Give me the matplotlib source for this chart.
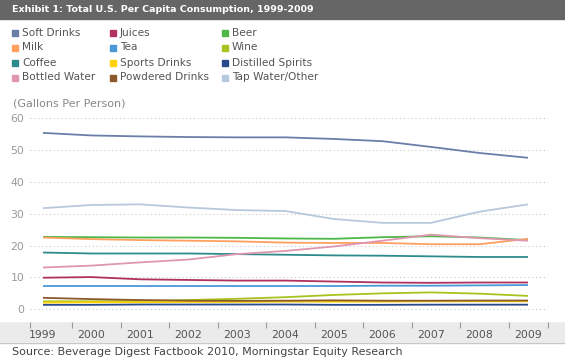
import matplotlib
matplotlib.use("Agg")
from matplotlib import pyplot as plt
from matplotlib.patches import Rectangle

years = list(range(1999, 2010))

soft_drinks = [55.3, 54.5, 54.2, 54.0, 53.9, 53.9, 53.4, 52.7, 50.9, 49.0, 47.5]
juices = [9.9, 10.1, 9.4, 9.2, 9.0, 9.0, 8.7, 8.4, 8.3, 8.4, 8.4]
beer = [22.7, 22.6, 22.5, 22.5, 22.4, 22.2, 22.1, 22.6, 22.9, 22.5, 21.7]
milk = [22.5, 22.0, 21.7, 21.5, 21.3, 20.9, 20.8, 20.8, 20.4, 20.4, 22.1]
tea = [7.3, 7.3, 7.3, 7.3, 7.3, 7.3, 7.3, 7.4, 7.4, 7.5, 7.6]
wine = [2.5, 2.5, 2.6, 2.9, 3.3, 3.8, 4.5, 5.0, 5.3, 4.9, 4.2]
coffee = [17.8, 17.5, 17.5, 17.5, 17.3, 17.1, 16.9, 16.8, 16.6, 16.4, 16.4]
sports_drinks = [2.1, 2.2, 2.2, 2.3, 2.3, 2.4, 2.4, 2.4, 2.5, 2.5, 2.5]
spirits = [1.4, 1.4, 1.5, 1.5, 1.5, 1.5, 1.4, 1.4, 1.45, 1.45, 1.45]
bottled_water = [13.1, 13.7, 14.7, 15.6, 17.3, 18.3, 19.7, 21.5, 23.4, 22.3, 21.5]
powdered = [3.6, 3.2, 2.9, 2.7, 2.65, 2.7, 2.8, 2.7, 2.7, 2.75, 2.75]
tap_water = [31.7, 32.7, 32.9, 31.9, 31.1, 30.8, 28.3, 27.1, 27.1, 30.6, 32.9]

# legend order is row by row, 3 per row
series = [
    ("Soft Drinks", soft_drinks, "#6a7fa8"),
    ("Juices", juices, "#b03060"),
    ("Beer", beer, "#4db848"),
    ("Milk", milk, "#ffa060"),
    ("Tea", tea, "#4a98d8"),
    ("Wine", wine, "#a8c21e"),
    ("Coffee", coffee, "#2e8b8b"),
    ("Sports Drinks", sports_drinks, "#ffd200"),
    ("Distilled Spirits", spirits, "#2b4a8c"),
    ("Bottled Water", bottled_water, "#e096b0"),
    ("Powdered Drinks", powdered, "#8a5a2a"),
    ("Tap Water/Other", tap_water, "#b8c8dc"),
]

W, H = 565, 362
fig = plt.figure(figsize=(W / 100, H / 100), dpi=100)

def fx(px):
    return px / W

def fy(py):
    return 1 - py / H

# title bar
fig.patches.append(Rectangle((0, fy(19)), 1, 19 / H, transform=fig.transFigure,
                             color="#666666", zorder=-1))
fig.text(fx(12), fy(10), "Exhibit 1: Total U.S. Per Capita Consumption, 1999-2009",
         color="white", fontsize=6.8, fontweight="bold", va="center", ha="left")

# legend
col_x = [12, 110, 222]
row_y = [32.5, 47.5, 62.5, 77.5]
for i, (name, vals, c) in enumerate(series):
    x = col_x[i % 3]
    y = row_y[i // 3]
    fig.patches.append(Rectangle((fx(x), fy(y + 3)), 6 / W, 6 / H,
                                 transform=fig.transFigure, color=c))
    fig.text(fx(x + 10), fy(y), name, color="#555555", fontsize=7.6, va="center")

# x axis band
fig.patches.append(Rectangle((0, fy(343)), 1, 20 / H, transform=fig.transFigure,
                             facecolor="#ebebeb", edgecolor="none", zorder=-1))
fig.lines.append(plt.Line2D([0, 1], [fy(323), fy(323)], transform=fig.transFigure,
                            color="#b0b0b0", lw=1, zorder=-1))
fig.lines.append(plt.Line2D([0, 1], [fy(343), fy(343)], transform=fig.transFigure,
                            color="#c8c8c8", lw=1, zorder=-1))

# axes: 1999 at px 43, 2009 at px 528; 0 at py 309.3, 10 units = 31.9 px
ppy = 48.5
ppv = 3.19
left, right = 30, 548
x0 = 1999 - (43 - left) / ppy
x1 = 2009 + (right - 528) / ppy
ytop, ybot = 61, -4
top_px = 309.3 - ytop * ppv
bot_px = 309.3 - ybot * ppv
ax = fig.add_axes([fx(left), fy(bot_px), (right - left) / W, (bot_px - top_px) / H])
ax.set_xlim(x0, x1)
ax.set_ylim(ybot, ytop)
ax.patch.set_alpha(0)

for name, vals, c in series:
    ax.plot(years, vals, color=c, lw=1.3, solid_capstyle="butt")

for s in ax.spines.values():
    s.set_visible(False)

ax.set_yticks([0, 10, 20, 30, 40, 50, 60])
ax.yaxis.grid(True, linestyle=(0, (1, 2.5)), color="#c8c8c8", lw=0.8)
ax.tick_params(axis="y", length=0, labelsize=7.8, labelcolor="#999999", pad=4)

ax.set_xticks(years)
ax.set_xticks([x0] + [y + 0.6 for y in years[:-1]] + [x1], minor=True)
ax.tick_params(axis="x", which="major", length=0, labelsize=7.8, labelcolor="#555555", pad=6)
ax.tick_params(axis="x", which="minor", length=4, color="#999999", width=0.8, direction="out")

fig.text(fx(13), fy(103), "(Gallons Per Person)", color="#888888", fontsize=8, va="center")
fig.text(fx(12), fy(352), "Source: Beverage Digest Factbook 2010, Morningstar Equity Research",
         color="#444444", fontsize=8, va="center")

fig.savefig("out.png", dpi=100)
